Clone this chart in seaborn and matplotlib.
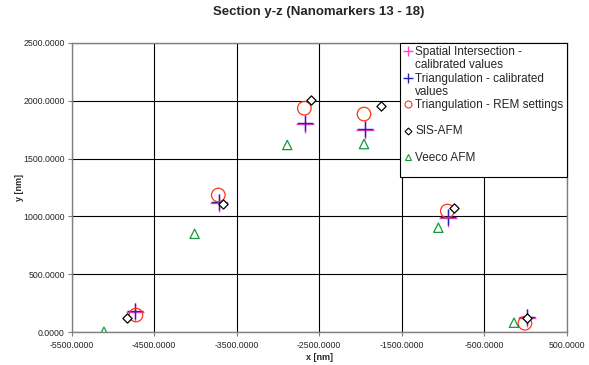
import matplotlib
matplotlib.use("Agg")
import matplotlib.pyplot as plt
from matplotlib.lines import Line2D
from matplotlib.ticker import MultipleLocator, FormatStrFormatter
import seaborn as sns

# ---- data ----
si_x = [-4733, -3714, -2672, -1945, -935, 15]
si_y = [178, 1114, 1796, 1744, 990, 127]
tri_x = [-4733, -3714, -2672, -1945, -935, 15]
tri_y = [186, 1122, 1804, 1752, 998, 135]
rem_x = [-4721, -3723, -2680, -1957, -947, -6]
rem_y = [149, 1185, 1934, 1884, 1047, 78]
sis_x = [-4826, -3662, -2600, -1755, -862, 15]
sis_y = [121, 1105, 2005, 1953, 1076, 121]
veeco_x = [-5109, -4010, -2887, -1957, -1056, -139]
veeco_y = [5, 850, 1617, 1625, 903, 83]

labels = ["Spatial Intersection - calibrated values",
          "Triangulation - calibrated values",
          "Triangulation - REM settings",
          "SIS-AFM",
          "Veeco AFM"]

PINK = "#FF44CC"
BLUE = "#2424B0"
RED = "#FF3311"
BLACK = "#000000"
GREEN = "#129A3A"

sns.set_style("white")
plt.rcParams["font.family"] = ["Liberation Sans", "DejaVu Sans"]

fig = plt.figure(figsize=(5.89, 3.65), dpi=100)
ax = fig.add_axes([71.7/589, 1-332.3/365, 495/589, 289.6/365])

sns.scatterplot(x=si_x, y=si_y, marker="+", s=180, color=PINK, linewidth=1.0, ax=ax, zorder=3)
sns.scatterplot(x=tri_x, y=tri_y, marker="+", s=140, color=BLUE, linewidth=1.0, ax=ax, zorder=4)
sns.scatterplot(x=rem_x, y=rem_y, marker="o", s=95, facecolor="none", edgecolor=RED, linewidth=0.9, ax=ax, zorder=5)
sns.scatterplot(x=sis_x, y=sis_y, marker="D", s=22, facecolor="white", edgecolor=BLACK, linewidth=0.9, ax=ax, zorder=6)
sns.scatterplot(x=veeco_x, y=veeco_y, marker="^", s=45, facecolor="none", edgecolor=GREEN, linewidth=0.9, ax=ax, zorder=7)

ax.set_xlim(-5500, 500)
ax.set_ylim(0, 2500)
ax.yaxis.set_major_locator(MultipleLocator(500))
ax.xaxis.set_major_formatter(FormatStrFormatter("%.4f"))
ax.yaxis.set_major_formatter(FormatStrFormatter("%.4f"))
ax.set_xticks([-5500, -4500, -3500, -2500, -1500, -500, 500])
ax.grid(True, color="black", linewidth=0.8)
ax.set_axisbelow(True)
for sp in ax.spines.values():
    sp.set_color("#808080")
    sp.set_linewidth(1.0)
ax.tick_params(axis="both", direction="out", length=3, width=0.8, color="#808080",
               labelsize=6.3, bottom=True, left=True)
ax.tick_params(axis="x", pad=3)
ax.tick_params(axis="y", pad=2)

ax.set_xlabel("x [nm]", fontsize=6.5, fontweight="bold")
ax.set_ylabel("y [nm]", fontsize=6.5, fontweight="bold")
ax.xaxis.set_label_coords(0.5, (332.3-357)/289.6)
ax.xaxis.label.set_va("center")
ax.yaxis.set_label_coords((20-71.7)/495, 0.5)
ax.yaxis.label.set_va("center")

fig.text(319/589, 1-12/365, "Section y-z (Nanomarkers 13 - 18)", ha="center", va="center",
         fontsize=9.5, fontweight="bold")

# legend (labels wrapped like the reference)
blank = Line2D([], [], linestyle="none")
handles = [
    Line2D([], [], linestyle="none", marker="+", color=PINK, markersize=7, markeredgewidth=1.0),
    blank,
    Line2D([], [], linestyle="none", marker="+", color=BLUE, markersize=7, markeredgewidth=1.0),
    blank,
    Line2D([], [], linestyle="none", marker="o", markerfacecolor="none", markeredgecolor=RED, markersize=5, markeredgewidth=0.8),
    blank,
    Line2D([], [], linestyle="none", marker="D", markerfacecolor="white", markeredgecolor=BLACK, markersize=3.5, markeredgewidth=0.8),
    blank,
    Line2D([], [], linestyle="none", marker="^", markerfacecolor="none", markeredgecolor=GREEN, markersize=5, markeredgewidth=0.8),
    blank,
]
leg_labels = ["Spatial Intersection -", "calibrated values",
              "Triangulation - calibrated", "values",
              labels[2], " ",
              labels[3], " ",
              labels[4], " "]
leg = ax.legend(handles, leg_labels, loc="upper right", bbox_to_anchor=(1, 1),
                borderaxespad=0, fontsize=8.5, frameon=True, fancybox=False,
                handlelength=0.7, handletextpad=0.25, labelspacing=0.1,
                borderpad=0.3, edgecolor="black", framealpha=1,
                handleheight=0.5)
leg.get_texts()[-1].set_fontsize(4.5)
leg.get_frame().set_linewidth(0.8)
leg.set_zorder(10)

fig.savefig("out.png", dpi=100)
